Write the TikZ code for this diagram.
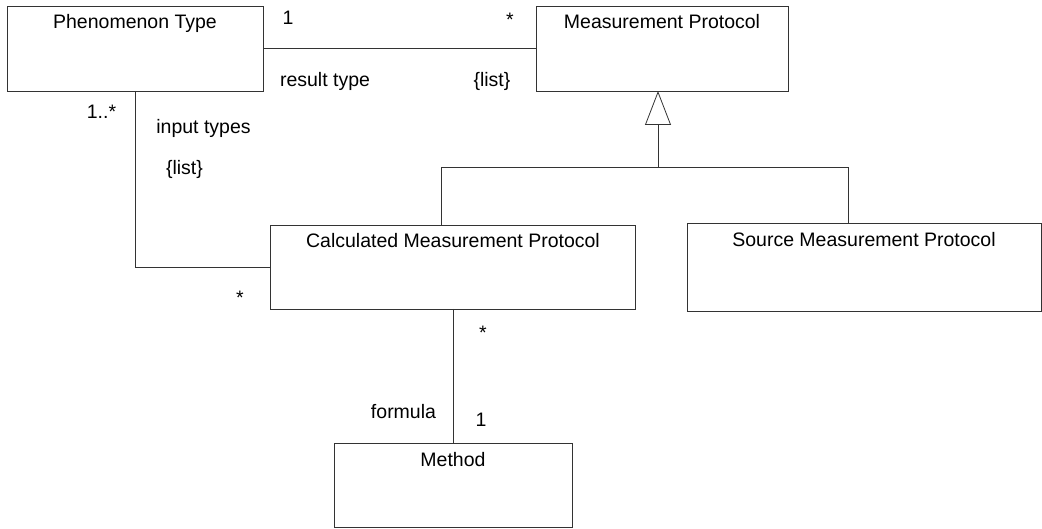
\documentclass[tikz,border=0pt]{standalone}
\usepackage{fontspec}
\setmainfont{Liberation Sans}
\usetikzlibrary{arrows.meta}

\tikzset{
  cls/.style={rectangle, draw, inner sep=0pt, outer sep=0pt},
  mult/.style={anchor=base, inner sep=0pt}
}

\begin{document}
\begin{tikzpicture}[x=1pt, y=-1pt, line width=0.8pt, draw=black!80,
  font=\fontsize{19.5}{23}\selectfont]
\useasboundingbox (0,0) rectangle (1042,529);

\node[cls, minimum width=256pt, minimum height=85pt,
  label={[anchor=base, yshift=-23pt]north:Phenomenon Type}] (pt) at (135,48.5) {};
\node[cls, minimum width=252pt, minimum height=85pt,
  label={[anchor=base, yshift=-23pt]north:Measurement Protocol}] (mp) at (662,48.5) {};
\node[cls, minimum width=365pt, minimum height=84pt,
  label={[anchor=base, yshift=-23pt]north:Calculated Measurement Protocol}] (cmp) at (453,267) {};
\node[cls, minimum width=354pt, minimum height=88pt,
  label={[anchor=base, yshift=-24pt]north:Source Measurement Protocol}] (smp) at (864,267) {};
\node[cls, minimum width=238pt, minimum height=84pt,
  label={[anchor=base, yshift=-23pt]north:Method}] (meth) at (453,485) {};

% result type
\draw (pt.east) -- (mp.west);
\node[mult] (r1) at (288,25) {1};
\node[mult] (r2) at (510,27) {*};
\node[mult] (rname) at (325,87) {result type};
\node[mult] (rlist) at (492,87) {\{list\}};

% input types
\draw (pt.south) -- (pt.south |- cmp.west) -- (cmp.west);
\node[mult] (i1) at (101.5,119) {1..*};
\node[mult] (iname) at (203.5,134) {input types};
\node[mult] (ilist) at (184.5,175) {\{list\}};
\node[mult] (i2) at (240,304.5) {*};

% formula
\draw (cmp.south) -- (meth.north);
\node[mult] (f1) at (483,339.5) {*};
\node[mult] (fname) at (403.5,418) {formula};
\node[mult] (f2) at (481,426) {1};

% generalisation
\coordinate (fork) at (658,167);
\coordinate (fl) at (441,167);
\coordinate (fr) at (848,167);
\draw[-{Triangle[open, length=34pt, width=26pt]}] (fork) -- (mp.south -| fork);
\draw (cmp.north -| fl) -- (fl) -- (fr) -- (smp.north -| fr);

\end{tikzpicture}
\end{document}
